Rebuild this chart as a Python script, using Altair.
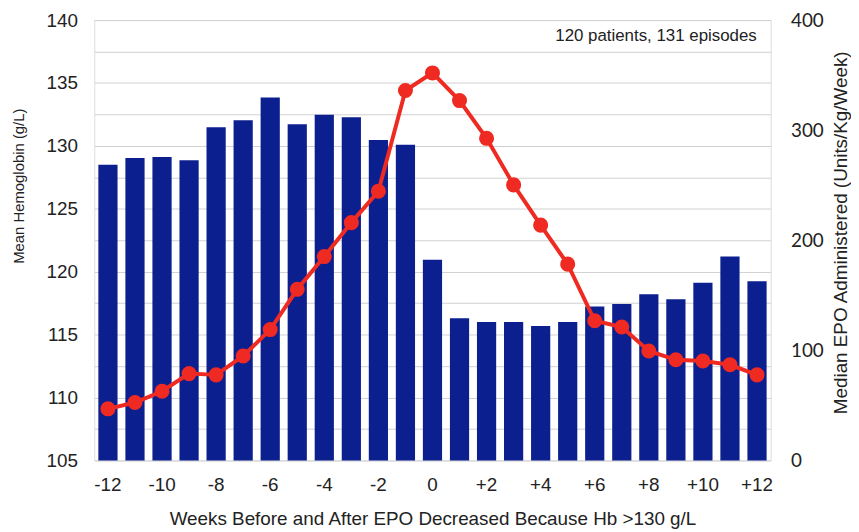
import altair as alt
import pandas as pd

weeks = list(range(-12, 13))
hemoglobin = [109.1, 109.6, 110.5, 111.9, 111.8, 113.3, 115.4, 118.6, 121.2, 123.9,
              126.4, 134.4, 135.8, 133.6, 130.6, 126.9, 123.7, 120.6, 116.1, 115.6,
              113.7, 113.0, 112.9, 112.6, 111.8]
epo = [268.5, 274.8, 275.7, 272.6, 302.7, 309.0, 329.7, 305.4, 314.0, 311.7,
       291.0, 286.8, 182.3, 129.1, 125.8, 125.8, 122.2, 125.8, 139.9, 142.0,
       151.0, 146.5, 161.5, 185.2, 162.7]
hb_ticks = [105 + 2.5 * i for i in range(15)]
epo_ticks = [0, 100, 200, 300, 400]
annotation = "120 patients, 131 episodes"

df = pd.DataFrame({"week": weeks, "hb": hemoglobin, "epo": epo})

FONT = "Liberation Sans"

x = alt.X(
    "week:O",
    sort=weeks,
    scale=alt.Scale(paddingInner=0.29, paddingOuter=0.15),
    axis=alt.Axis(
        title="Weeks Before and After EPO Decreased Because Hb >130 g/L",
        labelExpr="datum.value % 2 == 0 ? (datum.value > 0 ? '+' + datum.value : '' + datum.value) : ''",
        labelAngle=0,
        ticks=False,
        domain=False,
        grid=False,
        labelFontSize=19,
        labelPadding=15,
        titleFontSize=19,
        titleFontWeight="normal",
        titlePadding=16,
        labelColor="#222",
        titleColor="#222",
        labelFont=FONT,
        titleFont=FONT,
    ),
)

bars = alt.Chart(df).mark_bar(color="#0c1f8e").encode(
    x=x,
    y=alt.Y(
        "epo:Q",
        scale=alt.Scale(domain=[0, 400], nice=False),
        axis=alt.Axis(
            orient="right",
            title="Median EPO Administered (Units/Kg/Week)",
            values=epo_ticks,
            grid=False,
            ticks=False,
            domain=False,
            labelFontSize=19,
            labelPadding=20,
            titleFontSize=19,
            titleFontWeight="normal",
            titlePadding=8,
            titleAngle=270,
            titleBaseline="top",
            titleY=214,
            labelColor="#222",
            titleColor="#222",
            labelFont="Lato",
            titleFont=FONT,
        ),
    ),
)

hb_axis = alt.Axis(
    orient="left",
    title="Mean Hemoglobin (g/L)",
    values=hb_ticks,
    labelExpr="datum.value % 5 == 0 ? datum.label : ''",
    grid=True,
    gridColor="#d0d0d0",
    gridWidth=1,
    ticks=False,
    domain=False,
    labelFontSize=19,
    labelPadding=17,
    titleFontSize=15,
    titleFontWeight="normal",
    titlePadding=20,
    titleY=167,
    labelColor="#222",
    titleColor="#222",
    labelFont=FONT,
    titleFont=FONT,
)

hb_y = alt.Y("hb:Q", scale=alt.Scale(domain=[105, 140], nice=False), axis=hb_axis)

line = alt.Chart(df).mark_line(color="#ee2a22", strokeWidth=4).encode(x=x, y=hb_y)
points = alt.Chart(df).mark_point(color="#ee2a22", filled=True, opacity=1, size=230).encode(
    x=x, y=hb_y
)

note = alt.Chart(pd.DataFrame({"t": [annotation]})).mark_text(
    align="right", baseline="middle", fontSize=17, font=FONT, color="#222"
).encode(text="t:N", x=alt.value(668), y=alt.value(16))

hb_layer = alt.layer(line, points, note)

chart = (
    alt.layer(bars, hb_layer)
    .resolve_scale(y="independent")
    .properties(
        width=682,
        height=444,
        padding={"left": 3, "top": 1, "right": 0, "bottom": 0},
    )
    .configure_view(stroke="#555", strokeWidth=1.5)
    .configure(background="white")
)

chart.save("out.html", embed_options={"renderer": "svg", "actions": False})
